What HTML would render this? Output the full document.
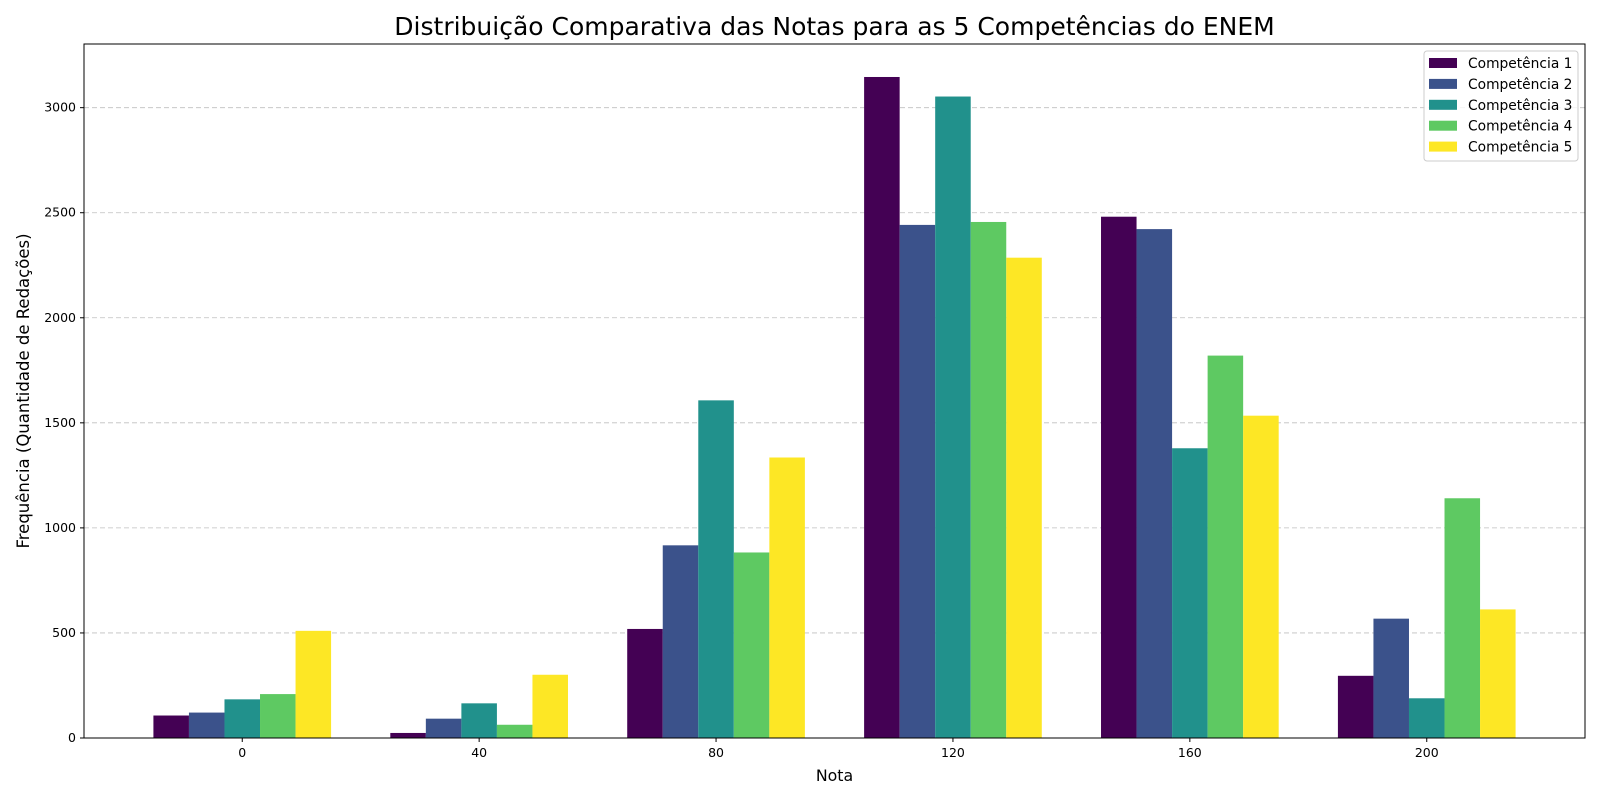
<!DOCTYPE html>
<html><head><meta charset="utf-8"><style>
html,body{margin:0;padding:0;width:1600px;height:800px;overflow:hidden;background:#fff;font-family:"Liberation Sans","DejaVu Sans",sans-serif}
svg{display:block}
</style></head><body>
<svg id="c" width="1600" height="800" xmlns="http://www.w3.org/2000/svg" font-family="'DejaVu Sans','Liberation Sans',sans-serif"></svg>
<script>
const categories=["0","40","80","120","160","200"];
const seriesNames=["Competência 1","Competência 2","Competência 3","Competência 4","Competência 5"];
const c1=[107,24,519,3146,2481,296];
const c2=[121,92,917,2442,2422,568];
const c3=[184,165,1607,3053,1379,189];
const c4=[209,63,883,2456,1820,1141];
const c5=[510,301,1335,2286,1534,612];
const yTicks=[0,500,1000,1500,2000,2500,3000];
const series=[c1,c2,c3,c4,c5];
const colors=["#440154","#3b528b","#21918c","#5ec962","#fde725"];
const L=84,R=1585,T=44,B=738;
const xMin=-0.668,xMax=5.668,yMax=3303;
const sx=v=>L+(v-xMin)/(xMax-xMin)*(R-L);
const sy=v=>B-v/yMax*(B-T);
const svg=document.getElementById('c');
const NS="http://www.w3.org/2000/svg";
function mk(t,a,p){const e=document.createElementNS(NS,t);for(const k in a)e.setAttribute(k,a[k]);(p||svg).appendChild(e);return e;}
yTicks.forEach(v=>{
 const g=mk('line',{x1:L,x2:R,y1:sy(v),y2:sy(v),stroke:'#b0b0b0','stroke-dasharray':'5,3','stroke-width':0.8,opacity:0.8});
 
 
});
const w=0.15;
series.forEach((s,si)=>{
 s.forEach((v,ci)=>{
  const xc=ci+(si-2)*w;
  const r=mk('rect',{x:sx(xc-w/2),y:sy(v),width:sx(xc+w/2)-sx(xc-w/2),height:sy(0)-sy(v),fill:colors[si]});
  
  
 });
});
const f=mk('rect',{x:L,y:T,width:R-L,height:B-T,fill:'none',stroke:'#000','stroke-width':1});


yTicks.forEach(v=>{
 mk('line',{x1:L-4,x2:L,y1:sy(v),y2:sy(v),stroke:'#000'});
 const t=mk('text',{x:L-8,y:sy(v)+4,'text-anchor':'end','font-size':12.5});
 t.textContent=v;
 
 
});
categories.forEach((c,i)=>{
 mk('line',{x1:sx(i),x2:sx(i),y1:B,y2:B+4,stroke:'#000'});
 const t=mk('text',{x:sx(i),y:B+19,'text-anchor':'middle','font-size':12.5});
 t.textContent=c;
 
 
});
const ti=mk('text',{x:(L+R)/2,y:35,'text-anchor':'middle','font-size':25});
ti.textContent="Distribuição Comparativa das Notas para as 5 Competências do ENEM";


const xt=mk('text',{x:(L+R)/2,y:781,'text-anchor':'middle','font-size':15.8});
xt.textContent="Nota";


const yt=mk('text',{x:29,y:(T+B)/2,'text-anchor':'middle','font-size':16.5,transform:'rotate(-90 29 '+((T+B)/2)+')'});
yt.textContent="Frequência (Quantidade de Redações)";


const lg=mk('rect',{x:1424,y:51,width:154,height:110,rx:3,fill:'#fff','fill-opacity':0.8,stroke:'#ccc'});


seriesNames.forEach((n,i)=>{
 const y=57+i*20.9;
 mk('rect',{x:1429,y:y+1,width:28,height:10,fill:colors[i]});
 const t=mk('text',{x:1468,y:y+11,'font-size':13.8});
 t.textContent=n;
 
 
});
</script>
</body></html>
